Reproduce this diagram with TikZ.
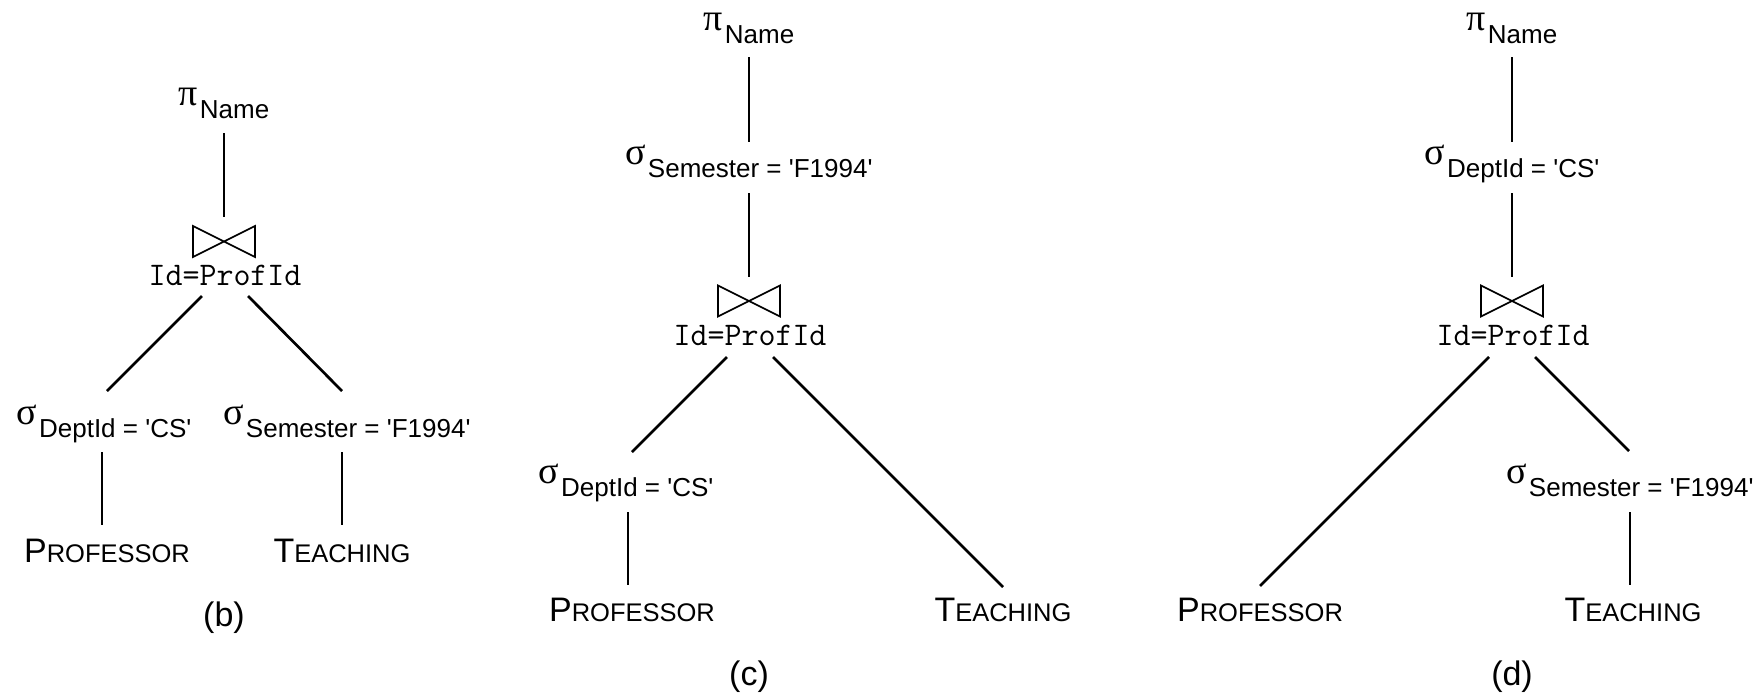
\documentclass[tikz,border=0pt]{standalone}
\usepackage{fontspec}
\setmainfont{Liberation Sans}
\newfontfamily\grk{Liberation Serif}
\newcommand{\op}[2]{{\grk\fontsize{19}{20}\selectfont #1}\kern1pt\raisebox{-6.5pt}{\fontsize{13}{15}\selectfont #2}}
\newcommand{\scp}[2]{#1{\fontsize{12.75}{15}\selectfont #2}}
\newcommand{\jtext}{{\ttfamily\fontsize{16.5}{18}\selectfont Id=ProfId}}
\newcommand{\qs}{\textquotesingle}
\begin{document}
\begin{tikzpicture}[x=0.5pt,y=-0.5pt,
  lbl/.style={anchor=base,inner sep=0pt,font=\fontsize{17}{20}\selectfont},
  conn/.style={line width=1.35pt},
  tie/.style={line width=0.85pt},
  bowtie/.style={minimum width=31pt,minimum height=15.5pt,inner sep=0pt,outer sep=0pt}]
\useasboundingbox (0,0) rectangle (1764,693);

% ---------------- panel (b) ----------------
\node[lbl] (pib) at (224,105) {\op{π}{Name}};
\draw[tie] (224,241.5) node[bowtie] (bwb) {} (bwb.north west) -- (bwb.south east) -- (bwb.north east) -- (bwb.south west) -- cycle;
\node[lbl] (jb) at (225,285) {\jtext};
\node[lbl] (sdb) at (104,424) {\op{σ}{DeptId = \qs CS\qs}};
\node[lbl] (ssb) at (347,424) {\op{σ}{Semester = \qs F1994\qs}};
\node[lbl] (profb) at (107,562) {\scp{P}{ROFESSOR}};
\node[lbl] (teachb) at (342,562) {\scp{T}{EACHING}};
\node[lbl] (capb) at (224,626) {(b)};
\draw[conn] ([shift={(0,28)}]pib.base) -- ([shift={(0,-9)}]bwb.north);
\draw[conn] ([shift={(-23,11)}]jb.base) -- ([shift={(3,-33)}]sdb.base);
\draw[conn] ([shift={(23,11)}]jb.base) -- ([shift={(-5,-33)}]ssb.base);
\draw[conn] ([shift={(-2,28)}]sdb.base) -- ([shift={(-5,-37)}]profb.base);
\draw[conn] ([shift={(-5,28)}]ssb.base) -- ([shift={(0,-37)}]teachb.base);

% ---------------- panel (c) ----------------
\node[lbl] (pic) at (749,30) {\op{π}{Name}};
\node[lbl] (ssc) at (749,164) {\op{σ}{Semester = \qs F1994\qs}};
\draw[tie] (749,301) node[bowtie] (bwc) {} (bwc.north west) -- (bwc.south east) -- (bwc.north east) -- (bwc.south west) -- cycle;
\node[lbl] (jc) at (750,345) {\jtext};
\node[lbl] (sdc) at (626,483) {\op{σ}{DeptId = \qs CS\qs}};
\node[lbl] (profc) at (632,621) {\scp{P}{ROFESSOR}};
\node[lbl] (teachc) at (1003,621) {\scp{T}{EACHING}};
\node[lbl] (capc) at (749,685) {(c)};
\draw[conn] ([shift={(0,27)}]pic.base) -- ([shift={(0,-22)}]ssc.base);
\draw[conn] ([shift={(0,29)}]ssc.base) -- ([shift={(0,-8.5)}]bwc.north);
\draw[conn] ([shift={(-23,12)}]jc.base) -- ([shift={(6,-31)}]sdc.base);
\draw[conn] ([shift={(23,12)}]jc.base) -- ([shift={(0,-34)}]teachc.base);
\draw[conn] ([shift={(2,29)}]sdc.base) -- ([shift={(-4,-36)}]profc.base);

% ---------------- panel (d) ----------------
\node[lbl] (pid) at (1512,30) {\op{π}{Name}};
\node[lbl] (sdd) at (1512,164) {\op{σ}{DeptId = \qs CS\qs}};
\draw[tie] (1512,301) node[bowtie] (bwd) {} (bwd.north west) -- (bwd.south east) -- (bwd.north east) -- (bwd.south west) -- cycle;
\node[lbl] (jd) at (1513,345) {\jtext};
\node[lbl] (profd) at (1260,621) {\scp{P}{ROFESSOR}};
\node[lbl] (ssd) at (1630,483) {\op{σ}{Semester = \qs F1994\qs}};
\node[lbl] (teachd) at (1633,621) {\scp{T}{EACHING}};
\node[lbl] (capd) at (1512,685) {(d)};
\draw[conn] ([shift={(0,27)}]pid.base) -- ([shift={(0,-22)}]sdd.base);
\draw[conn] ([shift={(0,29)}]sdd.base) -- ([shift={(0,-8.5)}]bwd.north);
\draw[conn] ([shift={(-24,12)}]jd.base) -- ([shift={(0,-35)}]profd.base);
\draw[conn] ([shift={(22,12)}]jd.base) -- ([shift={(-1,-32)}]ssd.base);
\draw[conn] ([shift={(0,29)}]ssd.base) -- ([shift={(-3,-36)}]teachd.base);
\end{tikzpicture}
\end{document}
